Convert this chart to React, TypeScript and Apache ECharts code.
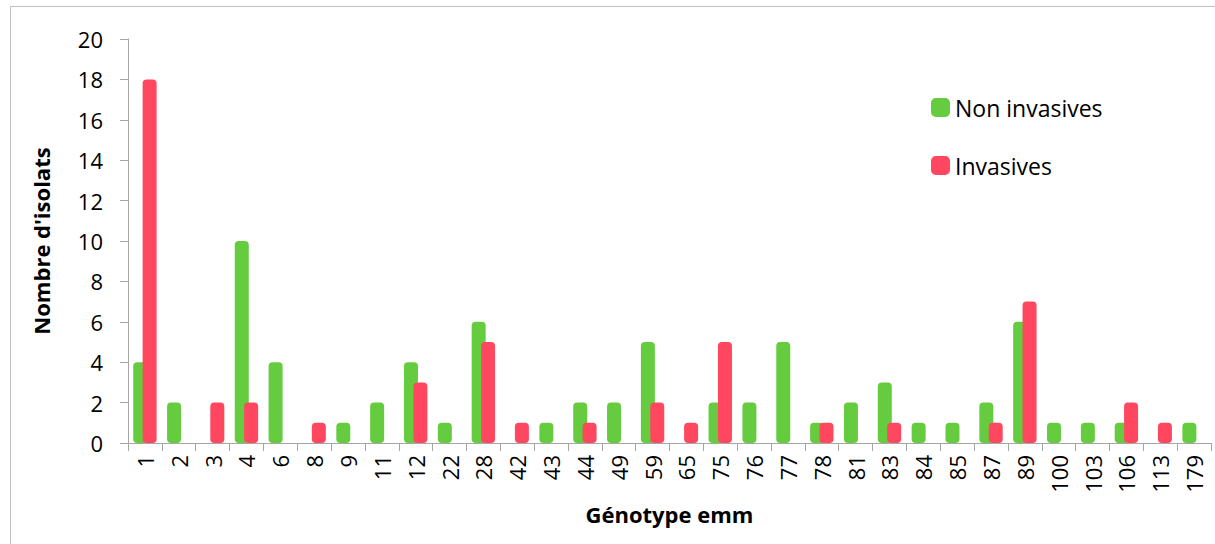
import React, { useEffect, useRef } from "react";
import * as echarts from "echarts";

const categories = ["1","2","3","4","6","8","9","11","12","22","28","42","43","44","49","59","65","75","76","77","78","81","83","84","85","87","89","100","103","106","113","179"];
const nonInvasives = [4,2,0,10,4,0,1,2,4,1,6,0,1,2,2,5,0,2,2,5,1,2,3,1,1,2,6,1,1,1,0,1];
const invasives = [18,0,2,2,0,1,0,0,3,0,5,1,0,1,0,2,1,5,0,0,1,0,1,0,0,1,7,0,0,2,1,0];
const yTicks = [0,2,4,6,8,10,12,14,16,18,20];

const FONT = "Open Sans";
const GREEN = "#66cc3f";
const RED = "#ff475f";

export default function App() {
  const ref = useRef<HTMLDivElement>(null);
  useEffect(() => {
    if (!ref.current) return;
    const chart = echarts.init(ref.current, null, { renderer: "svg" });
    const toNull = (a: number[]) => a.map((v) => (v === 0 ? null : v));
    chart.setOption({
      animation: false,
      backgroundColor: "#fff",
      textStyle: { fontFamily: FONT },
      grid: { left: 128, right: 4, top: 39, bottom: 101, containLabel: false },
      legend: {
        orient: "vertical",
        left: 931,
        top: 96,
        padding: 0,
        itemWidth: 19,
        itemHeight: 19,
        itemGap: 35,
        icon: "roundRect",
        textStyle: { fontFamily: FONT, fontSize: 23, color: "#000" },
        data: ["Non invasives", "Invasives"],
      },
      xAxis: {
        type: "category",
        data: categories,
        name: "Génotype emm",
        nameLocation: "middle",
        nameGap: 60,
        nameTextStyle: { fontFamily: FONT, fontSize: 22, fontWeight: "bold", color: "#000" },
        axisLine: { lineStyle: { color: "#a6a6a6", width: 1 } },
        axisTick: { show: true, alignWithLabel: false, interval: 0, length: 8, lineStyle: { color: "#a6a6a6" } },
        axisLabel: { interval: 0, rotate: 90, fontSize: 22, color: "#000", margin: 12, fontFamily: FONT },
      },
      yAxis: {
        type: "value",
        min: 0,
        max: 20,
        interval: 2,
        name: "Nombre d'isolats",
        nameLocation: "middle",
        nameGap: 76,
        nameTextStyle: { fontFamily: FONT, fontSize: 22, fontWeight: "bold", color: "#000" },
        axisLine: { show: true, lineStyle: { color: "#a6a6a6", width: 1 } },
        axisTick: { show: true, length: 8, lineStyle: { color: "#a6a6a6" } },
        splitLine: { show: false },
        axisLabel: {
          fontSize: 22,
          color: "#000",
          margin: 25,
          fontFamily: FONT,
          formatter: (v: number) => (yTicks.includes(v) ? String(v) : ""),
        },
      },
      series: [
        {
          name: "Non invasives",
          type: "bar",
          data: toNull(nonInvasives),
          barWidth: 14,
          barGap: "-33%",
          itemStyle: { color: GREEN, borderRadius: 4 },
        },
        {
          name: "Invasives",
          type: "bar",
          data: toNull(invasives),
          barWidth: 14,
          barGap: "-33%",
          itemStyle: { color: RED, borderRadius: 4 },
        },
      ],
      graphic: [
        {
          type: "polyline",
          silent: true,
          shape: { points: [[10.5, 544], [10.5, 6.5], [1215, 6.5]] },
          style: { stroke: "#bfbfbf", fill: "none", lineWidth: 1 },
        },
      ],
    });
    return () => chart.dispose();
  }, []);
  return <div ref={ref} style={{ position: "fixed", left: 0, top: 0, width: 1215, height: 544 }} />;
}
